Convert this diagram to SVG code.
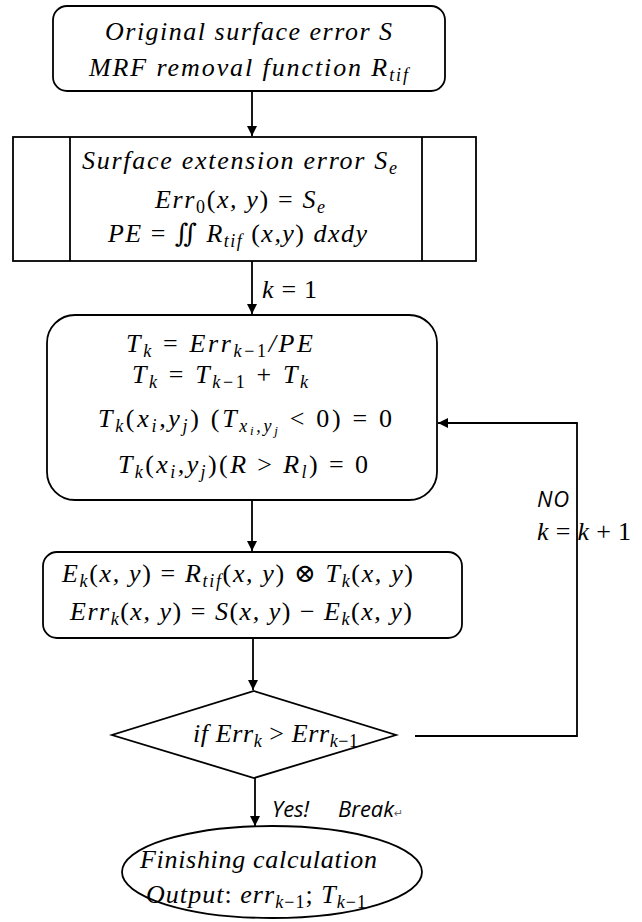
<svg xmlns="http://www.w3.org/2000/svg" width="642" height="922" viewBox="0 0 642 922">
<style>
.bg{fill:#fff}
.shape{fill:#fff;stroke:#000;stroke-width:1.8}
.line{fill:none;stroke:#000;stroke-width:1.8}
.m{font-family:"Liberation Serif","DejaVu Serif",serif;font-style:italic;font-size:26px;fill:#000}
.u{font-style:normal}
.s{font-size:18px}
.ss{font-size:13px}
.lbl{font-family:"Open Sans","Liberation Sans",sans-serif;font-style:italic;font-size:22px;fill:#000}
.ret{font-family:"DejaVu Sans",sans-serif;font-style:normal;font-size:11px;fill:#666}
</style>
<defs>
<marker id="ah" viewBox="0 0 10 10" refX="10" refY="5" markerWidth="10" markerHeight="11" markerUnits="userSpaceOnUse" orient="auto">
<path d="M0,0 L10,5 L0,10 z" fill="#000"/>
</marker>
</defs>
<rect class="bg" x="0" y="0" width="642" height="922"/>

<g id="connectors">
<line class="line" x1="252" y1="91" x2="252" y2="136" marker-end="url(#ah)"/>
<line class="line" x1="252" y1="261" x2="252" y2="314" marker-end="url(#ah)"/>
<line class="line" x1="252" y1="500" x2="252" y2="551" marker-end="url(#ah)"/>
<line class="line" x1="253" y1="638" x2="253" y2="690" marker-end="url(#ah)"/>
<line class="line" x1="255" y1="778" x2="255" y2="826" marker-end="url(#ah)"/>
<polyline class="line" points="415,736 577,736 577,423 438,423" marker-end="url(#ah)"/>
<text class="m" x="262" y="298" textLength="55"><tspan>k </tspan><tspan class="u">= 1</tspan></text>
<text class="lbl" x="537" y="507" textLength="32">NO</text>
<text class="m" x="537" y="540" textLength="94"><tspan>k </tspan><tspan class="u">= </tspan><tspan>k </tspan><tspan class="u">+ 1</tspan></text>
<text class="lbl" x="272" y="817">Yes!</text>
<text class="lbl" x="338" y="817">Break<tspan class="ret">↵</tspan></text>
</g>

<g id="node-input">
<rect class="shape" x="53" y="6" width="392" height="85" rx="14"/>
<text class="m" x="105" y="40" textLength="287">Original surface error S</text>
<text class="m" x="89" y="76" textLength="319">MRF removal function R<tspan class="s" dy="5">tif</tspan></text>
</g>

<g id="node-extension">
<rect class="shape" x="13" y="137" width="463" height="124"/>
<line class="line" x1="70" y1="137" x2="70" y2="261"/>
<line class="line" x1="422" y1="137" x2="422" y2="261"/>
<text class="m" x="82" y="169" textLength="315">Surface extension error S<tspan class="s" dy="5">e</tspan></text>
<text class="m" x="155" y="208" textLength="170">Err<tspan class="s u" dy="5">0</tspan><tspan class="u" dy="-5">(</tspan>x, y<tspan class="u">) = </tspan>S<tspan class="s" dy="5">e</tspan></text>
<text class="m" x="108" y="242" textLength="259">PE <tspan class="u">= ∬ </tspan>R<tspan class="s" dy="5">tif</tspan><tspan class="u" dy="-5"> (</tspan>x,y<tspan class="u">) </tspan>dxdy</text>
</g>

<g id="node-dwell">
<rect class="shape" x="47" y="315" width="390" height="185" rx="28"/>
<text class="m" x="126" y="352" textLength="187">T<tspan class="s" dy="5">k</tspan><tspan class="u" dy="-5"> = </tspan>Err<tspan class="s" dy="5">k<tspan class="u">−1</tspan></tspan><tspan dy="-5">/PE</tspan></text>
<text class="m" x="132" y="383" textLength="176">T<tspan class="s" dy="5">k</tspan><tspan class="u" dy="-5"> = </tspan>T<tspan class="s" dy="5">k<tspan class="u">−1</tspan></tspan><tspan class="u" dy="-5"> + </tspan>T<tspan class="s" dy="5">k</tspan></text>
<text class="m" x="98" y="427" textLength="294">T<tspan class="s" dy="5">k</tspan><tspan class="u" dy="-5">(</tspan>x<tspan class="s" dy="5">i</tspan><tspan dy="-5">,y</tspan><tspan class="s" dy="5">j</tspan><tspan class="u" dy="-5">) (</tspan>T<tspan class="s" dy="5">x</tspan><tspan class="ss" dy="3">i</tspan><tspan class="s" dy="-3">,y</tspan><tspan class="ss" dy="3">j</tspan><tspan class="u" dy="-8"> &lt; 0) = 0</tspan></text>
<text class="m" x="118" y="473" textLength="250">T<tspan class="s" dy="5">k</tspan><tspan class="u" dy="-5">(</tspan>x<tspan class="s" dy="5">i</tspan><tspan dy="-5">,y</tspan><tspan class="s" dy="5">j</tspan><tspan class="u" dy="-5">)(</tspan>R<tspan class="u"> &gt; </tspan>R<tspan class="s" dy="5">l</tspan><tspan class="u" dy="-5">) = 0</tspan></text>
</g>

<g id="node-convolution">
<rect class="shape" x="43" y="552" width="419" height="86" rx="14"/>
<text class="m" x="62" y="582" textLength="351">E<tspan class="s" dy="5">k</tspan><tspan class="u" dy="-5">(</tspan>x, y<tspan class="u">) = </tspan>R<tspan class="s" dy="5">tif</tspan><tspan class="u" dy="-5">(</tspan>x, y<tspan class="u">) ⊗ </tspan>T<tspan class="s" dy="5">k</tspan><tspan class="u" dy="-5">(</tspan>x, y<tspan class="u">)</tspan></text>
<text class="m" x="70" y="620" textLength="342">Err<tspan class="s" dy="5">k</tspan><tspan class="u" dy="-5">(</tspan>x, y<tspan class="u">) = </tspan>S<tspan class="u">(</tspan>x, y<tspan class="u">) − </tspan>E<tspan class="s" dy="5">k</tspan><tspan class="u" dy="-5">(</tspan>x, y<tspan class="u">)</tspan></text>
</g>

<g id="node-decision">
<polygon class="shape" points="254,691 396,735 254,778 112,735"/>
<text class="m" x="193" y="742" textLength="165">if Err<tspan class="s" dy="5">k</tspan><tspan class="u" dy="-5"> &gt; </tspan>Err<tspan class="s" dy="5">k<tspan class="u">−1</tspan></tspan></text>
</g>

<g id="node-finish">
<ellipse class="shape" cx="272" cy="872" rx="150" ry="46"/>
<text class="m" x="140" y="868" textLength="237">Finishing calculation</text>
<text class="m" x="146" y="903" textLength="220">Output<tspan class="u">: </tspan>err<tspan class="s" dy="5">k<tspan class="u">−1</tspan></tspan><tspan class="u" dy="-5">; </tspan>T<tspan class="s" dy="5">k<tspan class="u">−1</tspan></tspan></text>
</g>
</svg>
